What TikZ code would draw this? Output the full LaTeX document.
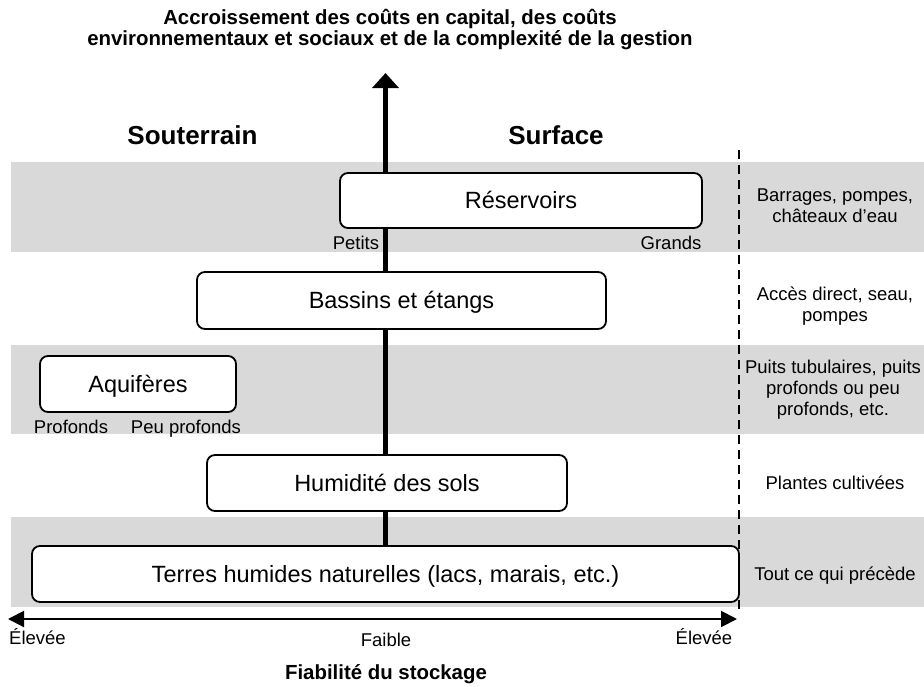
\documentclass[tikz,border=0pt]{standalone}
\usepackage{fontspec}
\setmainfont{Liberation Sans}
\usetikzlibrary{arrows.meta}
\definecolor{band}{HTML}{D9D9D9}
\newcommand\fntBox{\fontsize{23.5}{28}\selectfont}
\newcommand\fntSmall{\fontsize{18.5}{21}\selectfont}
\newcommand\fntTitle{\fontsize{20.4}{21}\selectfont\bfseries}
\newcommand\fntHead{\fontsize{26}{30}\selectfont\bfseries}
\tikzset{
  box/.style={draw, fill=white, line width=1.8pt, rounded corners=8pt, inner sep=0pt, font=\fntBox, text height=16.8pt, text depth=0pt},
  lbl/.style={inner sep=0pt, font=\fntSmall, text height=13.2pt, text depth=0pt},
  side/.style={inner sep=0pt, font=\fntSmall, align=center},
  bandfill/.style={fill=band, draw=none},
  vert/.style={line width=4.5pt, -{Triangle[length=15pt,width=26pt]}},
  horiz/.style={line width=2pt, {Triangle[length=16pt,width=16pt]}-{Triangle[length=16pt,width=16pt]}},
  sep/.style={line width=2pt, dash pattern=on 9pt off 6pt}
}
\begin{document}
\begin{tikzpicture}[x=1pt,y=-1pt]
\useasboundingbox (0,0) rectangle (924,686);
% grey bands
\fill[bandfill] (11,162) rectangle (924,252);
\fill[bandfill] (11,345) rectangle (924,434);
\fill[bandfill] (11,517) rectangle (924,607);
% dashed separator
\coordinate (dtop) at (739,150);
\coordinate (dbot) at (739,612);
\draw[sep] (dtop) -- (dbot);
% bottom box and vertical arrow
\node[box, minimum width=707pt, minimum height=56pt] (ter) at (385.5,574) {Terres humides naturelles (lacs, marais, etc.)};
\coordinate (vtop) at (385.5,73);
\draw[vert] (ter.north) -- (vtop);
% boxes
\node[box, minimum width=362pt, minimum height=55pt] (res) at (521,200.5) {Réservoirs};
\node[box, minimum width=409pt, minimum height=57pt] (bas) at (401.5,300.5) {Bassins et étangs};
\node[box, minimum width=196pt, minimum height=56pt] (aqu) at (138,384) {Aquifères};
\node[box, minimum width=360pt, minimum height=56pt] (hum) at (387,483) {Humidité des sols};
% small labels
\node[lbl] (petits) at (356,243) {Petits};
\node[lbl] (grands) at (671,243) {Grands};
\node[lbl] (prof) at (71,427) {Profonds};
\node[lbl] (peuprof) at (186,427) {Peu profonds};
% headings
\node[inner sep=0pt, font=\fntTitle, align=center] (title) at (390,30) {Accroissement des coûts en capital, des coûts\\environnementaux et sociaux et de la complexité de la gestion};
\node[inner sep=0pt, font=\fntHead, text height=18.6pt, text depth=0pt] (sout) at (192.5,135) {Souterrain};
\node[inner sep=0pt, font=\fntHead, text height=18.6pt, text depth=0pt] (surf) at (556,135) {Surface};
% right column
\node[side] (r1) at (835,206) {Barrages, pompes,\\châteaux d’eau};
\node[side] (r2) at (835,306) {Accès direct, seau,\\pompes};
\node[side] (r3) at (833,390) {Puits tubulaires, puits\\profonds ou peu\\profonds, etc.};
\node[lbl] (r4) at (835,483) {Plantes cultivées};
\node[lbl] (r5) at (835,574) {Tout ce qui précède};
% horizontal axis
\coordinate (hl) at (8,619);
\coordinate (hr) at (737,619);
\draw[horiz] (hl) -- (hr);
\node[lbl] (elevl) at (37.5,638) {Élevée};
\node[lbl] (faible) at (386,640) {Faible};
\node[lbl] (elevr) at (704,638) {Élevée};
\node[inner sep=0pt, font=\fntTitle, text height=14.6pt, text depth=0pt] (fiab) at (386,672) {Fiabilité du stockage};
\end{tikzpicture}
\end{document}
